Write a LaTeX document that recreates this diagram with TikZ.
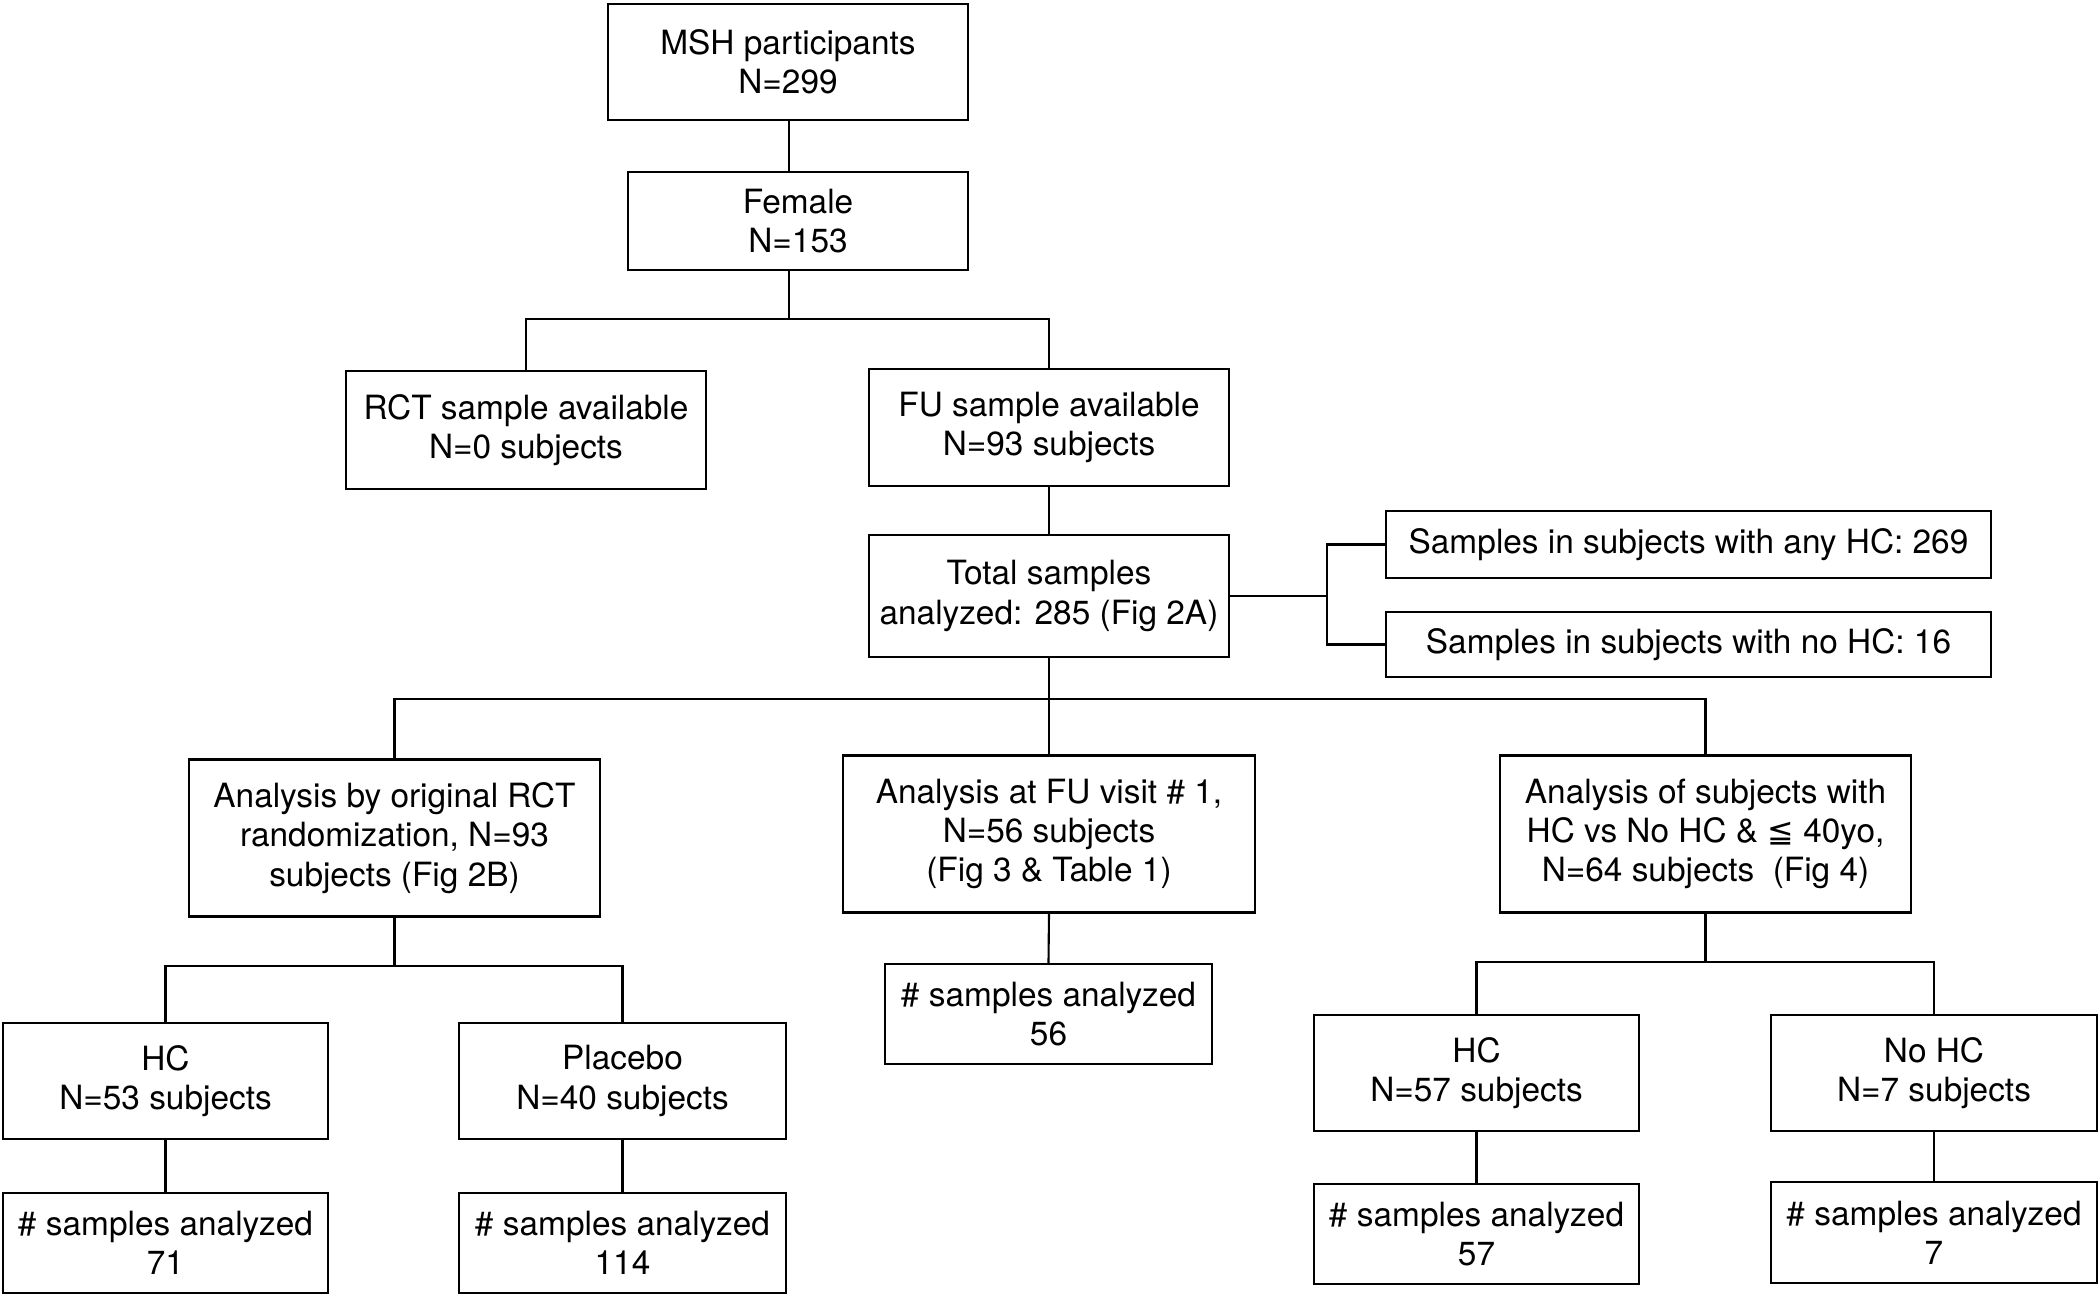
\documentclass[tikz,border=0pt]{standalone}
\usepackage{fontspec}
\setmainfont{TeX Gyre Heros}
\newfontfamily\symfont{DejaVu Sans}
\usepackage{tikz}

\tikzset{
	box/.style={draw, line width=0.6pt, align=center, inner sep=2pt, font=\fontsize{9.5}{11.2}\selectfont},
	link/.style={line width=0.6pt}
}

\begin{document}
\begin{tikzpicture}
		\useasboundingbox (0,0) rectangle (21,-12.95);
		\node[box, minimum width=3.6cm, minimum height=1.16cm] (msh) at (7.88,-0.62) {MSH participants\\N=299};
		\node[box, minimum width=3.4cm, minimum height=0.98cm] (female) at (7.98,-2.21) {Female\\N=153};
		\node[box, minimum width=3.6cm, minimum height=1.18cm] (rct) at (5.26,-4.30) {RCT sample available\\N=0 subjects};
		\node[box, minimum width=3.6cm, minimum height=1.17cm] (fu) at (10.49,-4.275) {FU sample available\\N=93 subjects};
		\node[box, minimum width=3.6cm, minimum height=1.22cm] (total) at (10.49,-5.96) {Total samples\\analyzed: 285 (Fig 2A)};
		\node[box, minimum width=6.05cm, minimum height=0.67cm] (anyhc) at (16.885,-5.445) {Samples in subjects with any HC: 269};
		\node[box, minimum width=6.05cm, minimum height=0.65cm] (nohc) at (16.885,-6.445) {Samples in subjects with no HC: 16};
		\node[box, minimum width=4.11cm, minimum height=1.57cm] (byrct) at (3.945,-8.38) {Analysis by original RCT\\randomization, N=93\\subjects (Fig 2B)};
		\node[box, minimum width=4.12cm, minimum height=1.57cm] (fuvisit) at (10.49,-8.34) {Analysis at FU visit \# 1,\\N=56 subjects\\(Fig 3 \& Table 1)};
		\node[box, minimum width=4.11cm, minimum height=1.57cm] (hcvs) at (17.055,-8.34) {Analysis of subjects with\\HC vs No HC \& {\symfont\small ≦} 40yo,\\N=64 subjects\ \ (Fig 4)};
		\node[box, minimum width=3.25cm, minimum height=1.16cm] (hca) at (1.655,-10.81) {HC\\N=53 subjects};
		\node[box, minimum width=3.27cm, minimum height=1.16cm] (placebo) at (6.225,-10.81) {Placebo\\N=40 subjects};
		\node[box, minimum width=3.25cm, minimum height=1.0cm] (sa) at (1.655,-12.43) {\# samples analyzed\\71};
		\node[box, minimum width=3.27cm, minimum height=1.0cm] (sb) at (6.225,-12.43) {\# samples analyzed\\114};
		\node[box, minimum width=3.27cm, minimum height=1.0cm] (sc) at (10.485,-10.14) {\# samples analyzed\\56};
		\node[box, minimum width=3.25cm, minimum height=1.16cm] (hcb) at (14.765,-10.73) {HC\\N=57 subjects};
		\node[box, minimum width=3.26cm, minimum height=1.16cm] (nohcb) at (19.34,-10.73) {No HC\\N=7 subjects};
		\node[box, minimum width=3.25cm, minimum height=1.0cm] (sd) at (14.765,-12.34) {\# samples analyzed\\57};
		\node[box, minimum width=3.26cm, minimum height=1.01cm] (se) at (19.34,-12.325) {\# samples analyzed\\7};
		\coordinate (b1) at (7.89,-3.19);
		\coordinate (br) at (13.27,-5.96);
		\coordinate (b2) at (10.49,-6.99);
		\coordinate (b3) at (3.945,-9.66);
		\coordinate (b4) at (17.055,-9.62);
		\draw[link] (msh.south -| b1) -- (female.north -| b1);
		\draw[link] (female.south -| b1) -- (b1);
		\draw[link] (rct.north) |- (b1) -| (fu.north);
		\draw[link] (fu.south) -- (total.north);
		\draw[link] (total.east) -- (br);
		\draw[link] (anyhc.west) -| (br) |- (nohc.west);
		\draw[link] (total.south) -- (b2);
		\draw[link] (byrct.north) |- (b2) -| (hcvs.north);
		\draw[link] (b2) -- (fuvisit.north);
		\draw[link] (byrct.south) -- (b3);
		\draw[link] (hca.north) |- (b3) -| (placebo.north);
		\draw[link] (hca.south) -- (sa.north);
		\draw[link] (placebo.south) -- (sb.north);
		\draw[link] (fuvisit.south) -- (sc.north);
		\draw[link] (hcvs.south) -- (b4);
		\draw[link] (hcb.north) |- (b4) -| (nohcb.north);
		\draw[link] (hcb.south) -- (sd.north);
		\draw[link] (nohcb.south) -- (se.north);
	\end{tikzpicture}
\end{document}
